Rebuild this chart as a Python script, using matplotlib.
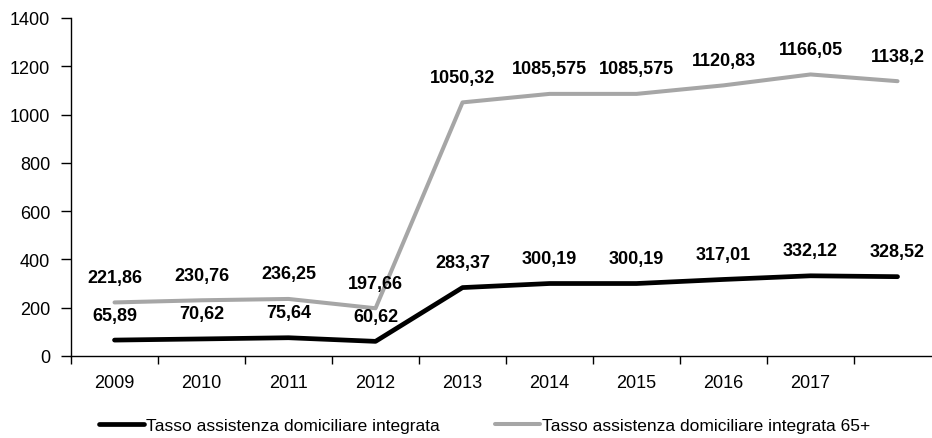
import matplotlib
matplotlib.use("Agg")
import matplotlib.pyplot as plt
from matplotlib import font_manager

years = ["2009", "2010", "2011", "2012", "2013", "2014", "2015", "2016", "2017", ""]
adi = [65.89, 70.62, 75.64, 60.62, 283.37, 300.19, 300.19, 317.01, 332.12, 328.52]
adi_65 = [221.86, 230.76, 236.25, 197.66, 1050.32, 1085.575, 1085.575, 1120.83, 1166.05, 1138.2]
labels = ["Tasso assistenza domiciliare integrata",
          "Tasso assistenza domiciliare integrata 65+"]

# narrow font if we have it, otherwise plain Liberation Sans
names = {f.name for f in font_manager.fontManager.ttflist}
if "Liberation Sans Narrow" in names:
    plt.rcParams["font.family"] = ["Liberation Sans Narrow", "DejaVu Sans"]
    fs, fs_leg = 14, 14
else:
    plt.rcParams["font.family"] = ["Liberation Sans", "DejaVu Sans"]
    fs, fs_leg = 13, 12.5

def fmt(v):
    s = ("%.3f" % v).rstrip("0").rstrip(".")
    return s.replace(".", ",")

fig = plt.figure(figsize=(9.32, 4.39), dpi=100)
ax = fig.add_axes([0.0762, 0.1868, 0.9335, 0.770])

x = list(range(len(years)))
ax.plot(x, adi, color="black", lw=3.4, solid_capstyle="round", solid_joinstyle="round", label=labels[0])
ax.plot(x, adi_65, color="#a6a6a6", lw=2.9, solid_capstyle="round", solid_joinstyle="round", label=labels[1])

# data labels above each point
for series in (adi, adi_65):
    for xi, v in zip(x, series):
        ax.annotate(fmt(v), (xi, v), xytext=(0, 18), textcoords="offset points",
                    ha="center", va="center", fontsize=fs, fontweight="bold")

ax.set_ylim(0, 1400)
ax.set_yticks(range(0, 1401, 200))
ax.set_xlim(-0.5, len(years) - 0.5)

# ticks between categories, labels in the middle
ax.set_xticks([i - 0.5 for i in range(len(years) + 1)])
ax.set_xticklabels([])
ax.set_xticks(x, minor=True)
ax.set_xticklabels(years, minor=True)
ax.tick_params(axis="x", which="major", length=6, width=1, direction="out")
ax.tick_params(axis="x", which="minor", length=0, pad=13, labelsize=fs)
ax.tick_params(axis="y", length=7, width=1, pad=8, labelsize=fs)

for side in ("top", "right"):
    ax.spines[side].set_visible(False)
for side in ("left", "bottom"):
    ax.spines[side].set_linewidth(1)

fig.legend(loc="center", bbox_to_anchor=(0.52, 0.0296), ncol=2, frameon=False,
           fontsize=fs_leg, handlelength=2.6, handletextpad=0.1, columnspacing=3.2)

plt.savefig("out.png", dpi=100)
